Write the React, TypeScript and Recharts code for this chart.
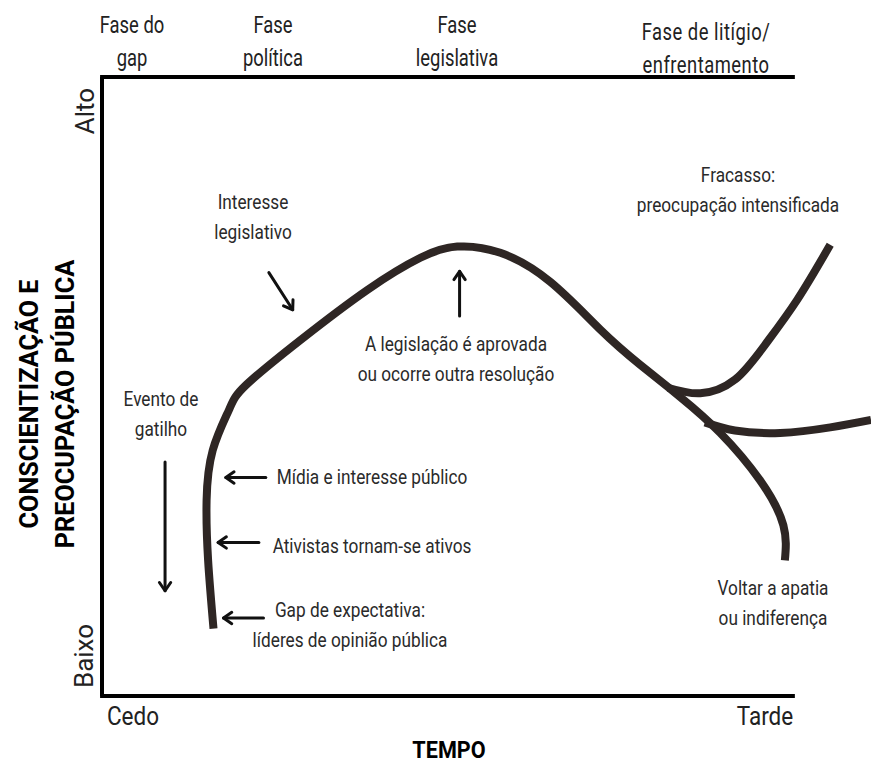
import { LineChart, Line, XAxis, YAxis, ReferenceLine } from "recharts";

// time runs 0 (cedo) -> 100 (tarde); concern runs 0 (baixo) -> 100 (alto)
const mainCurve = [
  { t: 14.5, a: 10.9 },
  { t: 13.8, a: 21.9 },
  { t: 13.6, a: 31.6 },
  { t: 14.4, a: 39.7 },
  { t: 16.5, a: 46.2 },
  { t: 18.7, a: 50.2 },
  { t: 25.8, a: 57.5 },
  { t: 34.5, a: 65.6 },
  { t: 41.4, a: 70.8 },
  { t: 46.2, a: 72.6 },
  { t: 51.8, a: 71.6 },
  { t: 58.3, a: 66.9 },
  { t: 64.8, a: 59.2 },
  { t: 70.0, a: 53.5 },
  { t: 75.2, a: 48.3 },
  { t: 80.4, a: 42.5 },
  { t: 85.6, a: 34.8 },
  { t: 88.6, a: 27.6 },
  { t: 88.8, a: 21.9 },
];

const failureBranch = [
  { t: 73.6, a: 49.8 },
  { t: 77.8, a: 48.9 },
  { t: 82.3, a: 51.1 },
  { t: 86.2, a: 56.7 },
  { t: 90.4, a: 64.0 },
  { t: 94.7, a: 72.9 },
];

const plateauBranch = [
  { t: 78.4, a: 44.2 },
  { t: 82.3, a: 42.9 },
  { t: 88.2, a: 42.5 },
  { t: 94.7, a: 43.4 },
  { t: 100, a: 44.6 },
];

// annotation arrows: from -> to (head at "to")
const arrows = [
  { from: { t: 21.7, a: 68.4 }, to: { t: 24.8, a: 62.4 } },
  { from: { t: 46.5, a: 61.4 }, to: { t: 46.5, a: 68.6 } },
  { from: { t: 8.2, a: 37.8 }, to: { t: 8.2, a: 17.0 } },
  { from: { t: 21.3, a: 35.3 }, to: { t: 16.1, a: 35.3 } },
  { from: { t: 20.4, a: 24.8 }, to: { t: 15.1, a: 24.8 } },
  { from: { t: 21.0, a: 12.6 }, to: { t: 15.8, a: 12.6 } },
];

const phaseLabels = [
  { text: "Fase do\ngap", x: 132, y: 42 },
  { text: "Fase\npolítica", x: 273, y: 42 },
  { text: "Fase\nlegislativa", x: 457, y: 42 },
  { text: "Fase de litígio/\nenfrentamento", x: 706, y: 49 },
];

const notes = [
  { text: "Interesse\nlegislativo", x: 253, y: 217 },
  { text: "A legislação é aprovada\nou ocorre outra resolução", x: 456, y: 359 },
  { text: "Fracasso:\npreocupação intensificada", x: 738, y: 190 },
  { text: "Evento de\ngatilho", x: 161, y: 414 },
  { text: "Mídia e interesse público", x: 372, y: 477 },
  { text: "Ativistas tornam-se ativos", x: 372, y: 546 },
  { text: "Gap de expectativa:\nlíderes de opinião pública", x: 350, y: 625 },
  { text: "Voltar a apatia\nou indiferença", x: 773, y: 603 },
];

const CURVE = "#2e2624";
const FONT = "Roboto, 'Noto Sans', sans-serif";

function Arrow(props: any) {
  const { x1, y1, x2, y2 } = props;
  const ang = Math.atan2(y2 - y1, x2 - x1);
  const h = 10;
  const spread = 0.6;
  const ax = x2 - h * Math.cos(ang - spread);
  const ay = y2 - h * Math.sin(ang - spread);
  const bx = x2 - h * Math.cos(ang + spread);
  const by = y2 - h * Math.sin(ang + spread);
  return (
    <g stroke="#111" strokeWidth={3} fill="none" strokeLinecap="round">
      <line x1={x1} y1={y1} x2={x2} y2={y2} />
      <polyline points={`${ax},${ay} ${x2},${y2} ${bx},${by}`} strokeLinejoin="round" />
    </g>
  );
}

function Label({ text, x, y, size = 19, bold = false, rotate = false, squeeze = 0.86, color = "#222", spacing = 0 }: any) {
  const tf = `translate(-50%, -50%)${rotate ? " rotate(-90deg)" : ""} scaleX(${squeeze})`;
  return (
    <div
      style={{
        position: "absolute",
        left: x,
        top: y,
        transform: tf,
        whiteSpace: "pre",
        textAlign: "center",
        fontFamily: FONT,
        fontSize: size,
        fontWeight: bold ? 700 : 400,
        lineHeight: rotate ? 1.4 : 1.45,
        letterSpacing: spacing,
        color,
      }}
    >
      {text}
    </div>
  );
}

export default function App() {
  return (
    <div style={{ position: "absolute", left: 0, top: 0, width: 871, height: 763, background: "#fff", overflow: "hidden" }}>
      <LineChart width={871} height={763} margin={{ top: 77, right: 0, bottom: 67, left: 102 }}>
        <XAxis type="number" dataKey="t" domain={[0, 100]} hide allowDataOverflow />
        <YAxis type="number" domain={[0, 100]} hide allowDataOverflow />

        <ReferenceLine segment={[{ x: 0, y: 0 }, { x: 0, y: 100 }]} stroke="#000" strokeWidth={4} ifOverflow="visible" />
        <ReferenceLine segment={[{ x: -0.25, y: 100 }, { x: 90.1, y: 100 }]} stroke="#000" strokeWidth={4} ifOverflow="visible" />
        <ReferenceLine segment={[{ x: -0.25, y: 0 }, { x: 90.1, y: 0 }]} stroke="#000" strokeWidth={4} ifOverflow="visible" />

        <Line data={mainCurve} dataKey="a" type="natural" stroke={CURVE} strokeWidth={8} dot={false} activeDot={false} isAnimationActive={false} />
        <Line data={failureBranch} dataKey="a" type="natural" stroke={CURVE} strokeWidth={8} dot={false} activeDot={false} isAnimationActive={false} />
        <Line data={plateauBranch} dataKey="a" type="natural" stroke={CURVE} strokeWidth={8} dot={false} activeDot={false} isAnimationActive={false} />

        {arrows.map((ar, i) => (
          <ReferenceLine
            key={i}
            segment={[{ x: ar.from.t, y: ar.from.a }, { x: ar.to.t, y: ar.to.a }]}
            shape={Arrow}
            ifOverflow="visible"
          />
        ))}
      </LineChart>

      {phaseLabels.map((p, i) => (
        <Label key={p.text} text={p.text} x={p.x} y={p.y} size={23} squeeze={0.8} spacing={i === 3 ? 0.6 : 0} />
      ))}
      {notes.map((n) => (
        <Label key={n.text} text={n.text} x={n.x} y={n.y} size={21} squeeze={0.82} color="#2a2a2a" />
      ))}

      <Label text={"CONSCIENTIZAÇÃO E\nPREOCUPAÇÃO PÚBLICA"} x={47} y={404} size={26} bold rotate squeeze={0.97} color="#000" />
      <Label text="Alto" x={85} y={111} size={26} rotate squeeze={1} color="#222" />
      <Label text="Baixo" x={84} y={656} size={26} rotate squeeze={1} color="#222" />
      <Label text="Cedo" x={133} y={717} size={25} squeeze={0.9} />
      <Label text="Tarde" x={765} y={717} size={25} squeeze={0.9} />
      <Label text="TEMPO" x={449} y={750} size={24} bold squeeze={0.9} color="#000" />
    </div>
  );
}
